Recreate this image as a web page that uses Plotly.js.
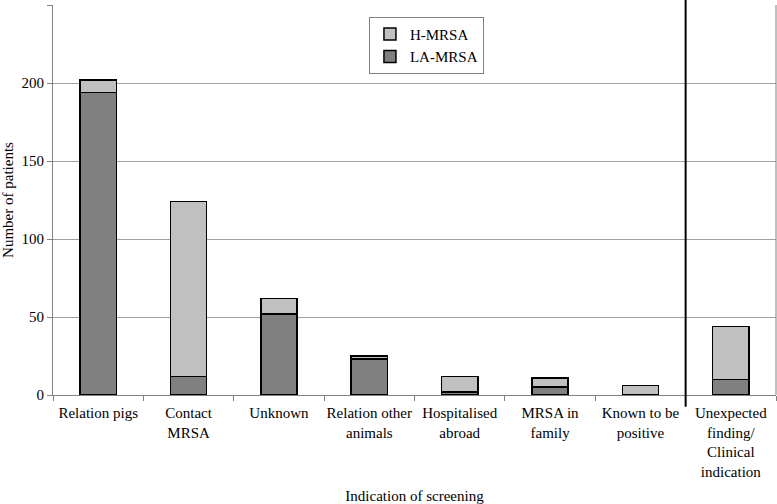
<!DOCTYPE html>
<html>
<head>
<meta charset="utf-8">
<script src="https://cdn.plot.ly/plotly-3.0.1.min.js"></script>
<style>html,body{margin:0;padding:0;background:#fff;}#chart{width:777px;height:504px;}</style>
</head>
<body>
<div id="chart"></div>
<script>
var categories = ["Relation pigs", "Contact<br>MRSA", "Unknown", "Relation other<br>animals", "Hospitalised<br>abroad", "MRSA in<br>family", "Known to be<br>positive", "Unexpected<br>finding/<br>Clinical<br>indication"];
var laMRSA = [194, 12, 52, 23, 2, 5, 0, 10];
var hMRSA = [8, 112, 10, 2, 10, 6, 6, 34];
var yTicks = [0, 50, 100, 150, 200, 250];

var font = {family: "'Liberation Serif', 'Times New Roman', Times, 'DejaVu Serif', serif", size: 15, color: "#000"};
var traces = [
  {type: "bar", name: "LA-MRSA", x: categories, y: laMRSA,
   marker: {color: "#808080", line: {color: "#000", width: 1.5}}},
  {type: "bar", name: "H-MRSA", x: categories, y: hMRSA,
   marker: {color: "#c0c0c0", line: {color: "#000", width: 1.5}}}
];
var layout = {
  width: 777, height: 504,
  margin: {l: 53, r: 1, t: 5, b: 109},
  paper_bgcolor: "#fff", plot_bgcolor: "#fff",
  font: font,
  barmode: "stack",
  bargap: 0.6,
  showlegend: true,
  legend: {x: 0.437, y: 0.97, xanchor: "left", yanchor: "top", traceorder: "reversed",
    bordercolor: "#808080", borderwidth: 1, bgcolor: "#fff", font: font,
    itemwidth: 30, tracegroupgap: 0},
  xaxis: {type: "category", tickson: "boundaries", ticks: "outside", ticklen: 5,
    tickcolor: "#808080", showline: true, linecolor: "#808080", linewidth: 1,
    showgrid: false, tickfont: font, tickangle: 0, ticklabelstandoff: 4,
    title: {text: "Indication of screening", font: font, standoff: 14}},
  yaxis: {range: [0, 250], tickvals: yTicks, ticktext: yTicks.map(String),
    ticks: "outside", ticklen: 5, tickcolor: "#808080",
    showline: true, linecolor: "#808080", linewidth: 1,
    showgrid: true, gridcolor: "#a0a0a0", gridwidth: 1, zeroline: false,
    tickfont: font,
    title: {text: "Number of patients", font: font, standoff: 6}},
  shapes: [
    {type: "line", xref: "x", yref: "paper", x0: 6.5, x1: 6.5, y0: -0.03, y1: 1.015,
     line: {color: "#000", width: 2}},
    {type: "line", xref: "paper", yref: "paper", x0: 1, x1: 1, y0: 0, y1: 1,
     line: {color: "#808080", width: 1}}
  ]
};
Plotly.newPlot("chart", traces, layout, {staticPlot: true, displayModeBar: false});
</script>
</body>
</html>
